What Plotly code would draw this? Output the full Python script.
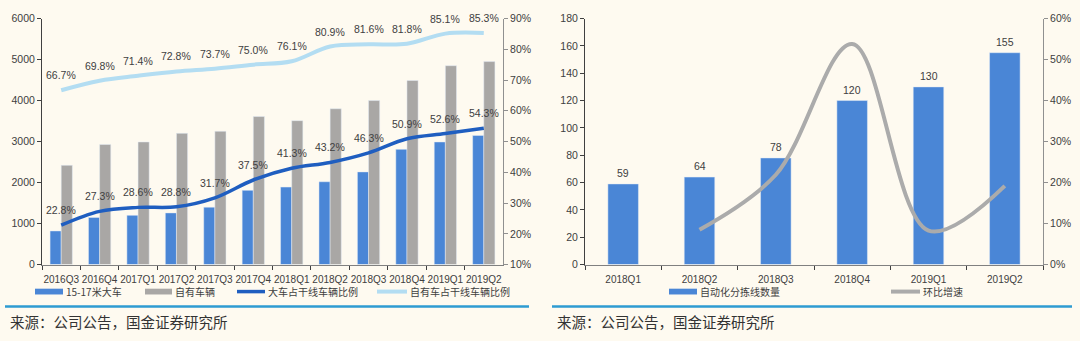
import plotly.graph_objects as go

# ---- left panel: fleet size and share of trunk-line vehicles ----
quarters_a = ["2016Q3", "2016Q4", "2017Q1", "2017Q2", "2017Q3", "2017Q4",
              "2018Q1", "2018Q2", "2018Q3", "2018Q4", "2019Q1", "2019Q2"]
big_trucks = [820, 1150, 1200, 1260, 1400, 1810, 1890, 2020, 2260, 2810, 2990, 3150]
own_vehicles = [2420, 2930, 2990, 3200, 3250, 3610, 3510, 3800, 4000, 4490, 4850, 4950]
big_share = [22.8, 27.3, 28.6, 28.8, 31.7, 37.5, 41.3, 43.2, 46.3, 50.9, 52.6, 54.3]
own_share = [66.7, 69.8, 71.4, 72.8, 73.7, 75.0, 76.1, 80.9, 81.6, 81.8, 85.1, 85.3]

# ---- right panel: automated sorting lines ----
quarters_b = ["2018Q1", "2018Q2", "2018Q3", "2018Q4", "2019Q1", "2019Q2"]
sort_lines = [59, 64, 78, 120, 130, 155]
qoq_quarters = ["2018Q2", "2018Q3", "2018Q4", "2019Q1", "2019Q2"]
qoq_growth = [8.5, 21.9, 53.8, 8.3, 19.2]

W, H = 1080, 341
BG = "#FEFAF0"
BLUE = "#4A86D6"
GRAY = "#A9A7A5"
DARK_BLUE = "#1F5EC0"
LIGHT_BLUE = "#B3DDF2"
LINE_GRAY = "#ABABAB"
TXT = "#404040"
NUM_FONT = dict(family="Liberation Sans, Arial", size=10.5, color=TXT)
TICK_FONT = dict(family="Liberation Sans, Arial", size=10, color=TXT)
CJK_FONT = dict(family="Noto Sans CJK SC", size=10, color=TXT)


def px_x(v):
    return v / W


def px_y(v):
    return 1 - v / H


fig = go.Figure()

fig.add_trace(go.Bar(x=quarters_a, y=big_trucks, name="15-17米大车",
                     marker_color=BLUE, xaxis="x", yaxis="y"))
fig.add_trace(go.Bar(x=quarters_a, y=own_vehicles, name="自有车辆",
                     marker_color=GRAY, xaxis="x", yaxis="y"))
fig.add_trace(go.Scatter(x=quarters_a, y=big_share, name="大车占干线车辆比例",
                         mode="lines", line=dict(color=DARK_BLUE, width=3.5, shape="spline"),
                         xaxis="x", yaxis="y2"))
fig.add_trace(go.Scatter(x=quarters_a, y=own_share, name="自有车占干线车辆比例",
                         mode="lines", line=dict(color=LIGHT_BLUE, width=4, shape="spline"),
                         xaxis="x", yaxis="y2"))

fig.add_trace(go.Bar(x=quarters_b, y=sort_lines, name="自动化分拣线数量",
                     marker_color=BLUE, width=0.4, xaxis="x2", yaxis="y3"))
fig.add_trace(go.Scatter(x=qoq_quarters, y=qoq_growth, name="环比增速",
                         mode="lines", line=dict(color=LINE_GRAY, width=4, shape="spline"),
                         xaxis="x2", yaxis="y4"))

annotations = []
for q, v in zip(quarters_a, big_share):
    annotations.append(dict(x=q, y=v, xref="x", yref="y2", text=f"{v:.1f}%",
                            showarrow=False, yshift=15, font=NUM_FONT))
for q, v in zip(quarters_a, own_share):
    annotations.append(dict(x=q, y=v, xref="x", yref="y2", text=f"{v:.1f}%",
                            showarrow=False, yshift=15, font=NUM_FONT))
for q, v in zip(quarters_b, sort_lines):
    annotations.append(dict(x=q, y=v, xref="x2", yref="y3", text=str(v),
                            showarrow=False, yshift=11, font=NUM_FONT))

# hand-drawn legends with wide swatches
shapes = []
legend_y = 296


def swatch_rect(x0, x1, color):
    shapes.append(dict(type="rect", xref="paper", yref="paper",
                       x0=px_x(x0), x1=px_x(x1), y0=px_y(legend_y + 3), y1=px_y(legend_y - 3),
                       fillcolor=color, line=dict(width=0)))


def swatch_line(x0, x1, color, width):
    shapes.append(dict(type="line", xref="paper", yref="paper",
                       x0=px_x(x0), x1=px_x(x1), y0=px_y(legend_y), y1=px_y(legend_y),
                       line=dict(color=color, width=width)))


def legend_text(x, text):
    annotations.append(dict(x=px_x(x), y=px_y(legend_y), xref="paper", yref="paper",
                            text=text, showarrow=False, xanchor="left", yanchor="middle",
                            font=CJK_FONT))


swatch_rect(35, 63, BLUE)
legend_text(64, "15-17米大车")
swatch_rect(145, 172, GRAY)
legend_text(173, "自有车辆")
swatch_line(237, 265, DARK_BLUE, 3.5)
legend_text(266, "大车占干线车辆比例")
swatch_line(377, 407, LIGHT_BLUE, 4)
legend_text(408, "自有车占干线车辆比例")

swatch_rect(669, 697, BLUE)
legend_text(698, "自动化分拣线数量")
swatch_line(891, 920, LINE_GRAY, 4)
legend_text(921, "环比增速")

# separators and source notes
for x0, x1 in [(5, 529), (552, 1072)]:
    shapes.append(dict(type="line", xref="paper", yref="paper",
                       x0=px_x(x0), x1=px_x(x1), y0=px_y(311.5), y1=px_y(311.5),
                       line=dict(color="#2E9BD2", width=2.5)))
for x in [8, 555]:
    annotations.append(dict(x=px_x(x), y=px_y(327), xref="paper", yref="paper",
                            text="来源：公司公告，国金证券研究所", showarrow=False,
                            xanchor="left", yanchor="middle",
                            font=dict(family="Noto Sans CJK SC", size=14.5, color="#333333")))

y_dom = [px_y(268), px_y(13)]
axis_common = dict(showgrid=False, zeroline=False, tickfont=NUM_FONT,
                   ticks="outside", ticklen=4, showline=True)
x_common = dict(showgrid=False, zeroline=False, tickfont=TICK_FONT, tickangle=0,
                ticks="outside", ticklen=4, showline=True, type="category",
                tickson="boundaries", linecolor="#808080", tickcolor="#404040",
                ticklabelstandoff=5)

fig.update_layout(
    width=W, height=H,
    margin=dict(l=0, r=0, t=0, b=0),
    paper_bgcolor=BG, plot_bgcolor=BG,
    showlegend=False,
    barmode="group", bargap=0.42, bargroupgap=0,
    xaxis=dict(domain=[px_x(42), px_x(503)], anchor="y", **x_common),
    yaxis=dict(domain=y_dom, anchor="x", range=[0, 6000], dtick=1000,
               linecolor="#404040", tickcolor="#404040", **axis_common),
    yaxis2=dict(overlaying="y", anchor="x", side="right", range=[10, 90], dtick=10,
                ticksuffix="%", linecolor="#909090", tickcolor="#909090", **axis_common),
    xaxis2=dict(domain=[px_x(585), px_x(1043)], anchor="y3", **x_common),
    yaxis3=dict(domain=y_dom, anchor="x2", range=[0, 180], dtick=20,
                linecolor="#404040", tickcolor="#404040", **axis_common),
    yaxis4=dict(overlaying="y3", anchor="x2", side="right", range=[0, 60], dtick=10,
                ticksuffix="%", linecolor="#909090", tickcolor="#909090", **axis_common),
    annotations=annotations,
    shapes=shapes,
)

fig.write_html("out.html")
